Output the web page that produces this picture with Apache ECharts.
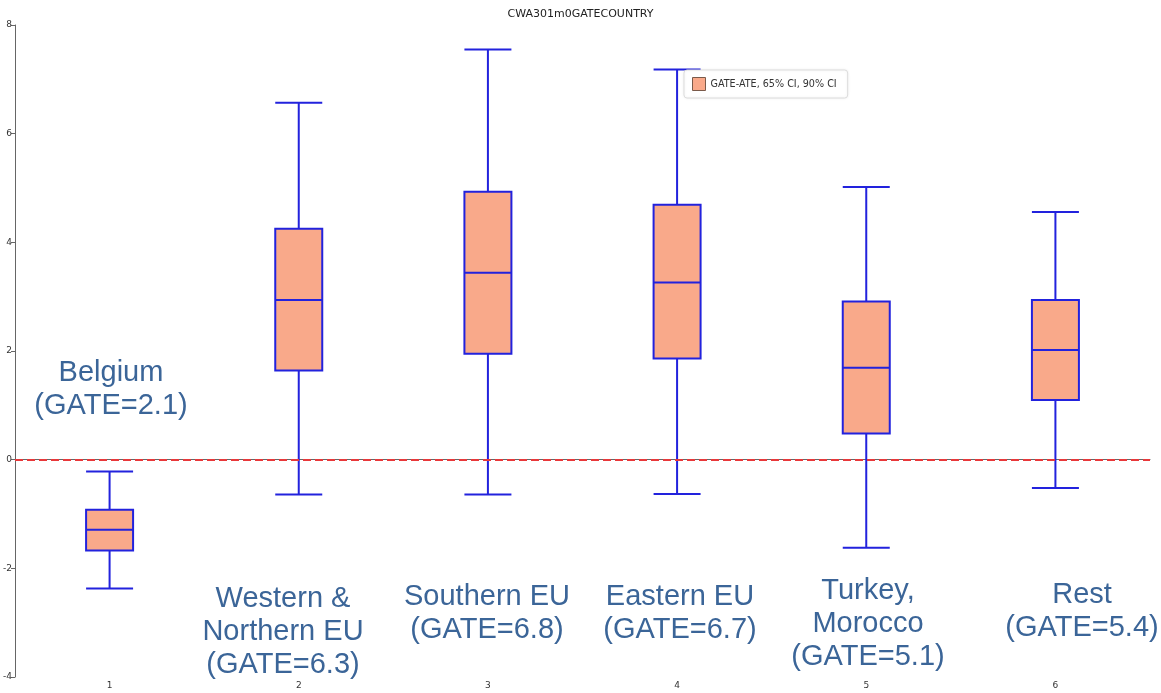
<!DOCTYPE html>
<html>
<head>
<meta charset="utf-8">
<script src="https://cdn.jsdelivr.net/npm/echarts@6/dist/echarts.min.js"></script>
<style>
    html, body { margin: 0; padding: 0; background: #fff; }
    #chart { width: 1161px; height: 693px; }
</style>
</head>
<body>
<div id="chart"></div>
<script>
    // categories on the x axis
    var categories = ['1', '2', '3', '4', '5', '6'];
    // boxplot values per group: lower whisker, Q1, median, Q3, upper whisker
    var lowWhisker = [-2.37, -0.64, -0.64, -0.63, -1.62, -0.52];
    var boxLow = [-1.67, 1.64, 1.95, 1.86, 0.48, 1.10];
    var medians = [-1.29, 2.94, 3.44, 3.26, 1.69, 2.02];
    var boxHigh = [-0.92, 4.25, 4.93, 4.69, 2.91, 2.94];
    var highWhisker = [-0.22, 6.57, 7.55, 7.18, 5.02, 4.56];
    var yTicks = { min: -4, max: 8, interval: 2 };
    // annotation texts per group
    var groupNotes = [
        'Belgium\n(GATE=2.1)',
        'Western &\nNorthern EU\n(GATE=6.3)',
        'Southern EU\n(GATE=6.8)',
        'Eastern EU\n(GATE=6.7)',
        'Turkey,\nMorocco\n(GATE=5.1)',
        'Rest\n(GATE=5.4)'
    ];

    var boxData = categories.map(function (c, i) {
        return [lowWhisker[i], boxLow[i], medians[i], boxHigh[i], highWhisker[i]];
    });

    // where the notes go (pixel positions of text centre / top)
    var notePos = [
        { x: 111, y: 356 },
        { x: 283, y: 582 },
        { x: 487, y: 580 },
        { x: 680, y: 580 },
        { x: 868, y: 574 },
        { x: 1082, y: 578 }
    ];

    var option = {
        animation: false,
        title: {
            text: 'CWA301m0GATECOUNTRY',
            left: 'center',
            top: 4,
            textStyle: {
                fontFamily: 'DejaVu Sans',
                fontSize: 11,
                fontWeight: 'normal',
                color: '#222'
            }
        },
        legend: {
            left: 684,
            top: 70,
            padding: [7, 11, 7, 8],
            itemWidth: 13,
            itemHeight: 13,
            itemGap: 6,
            icon: 'rect',
            borderColor: '#ddd',
            borderWidth: 1,
            borderRadius: 3,
            backgroundColor: '#fff',
            shadowColor: 'rgba(0,0,0,0.08)',
            shadowBlur: 3,
            itemStyle: {
                color: '#f9a98a',
                borderColor: '#7a5a4a',
                borderWidth: 1
            },
            textStyle: {
                fontFamily: 'DejaVu Sans',
                fontSize: 9.6,
                color: '#333'
            },
            data: ['GATE-ATE, 65% CI, 90% CI']
        },
        grid: {
            left: 15,
            right: 11,
            top: 25,
            bottom: 16
        },
        xAxis: {
            type: 'category',
            data: categories,
            boundaryGap: true,
            axisLine: { lineStyle: { color: '#666', width: 1 } },
            axisTick: { length: 4, lineStyle: { color: '#666' } },
            axisLabel: {
                fontFamily: 'DejaVu Sans',
                fontSize: 9,
                color: '#333',
                margin: 4
            },
            splitLine: { show: false }
        },
        yAxis: {
            type: 'value',
            min: yTicks.min,
            max: yTicks.max,
            interval: yTicks.interval,
            axisLine: { show: true, lineStyle: { color: '#666', width: 1 } },
            axisTick: { show: true, length: 4, lineStyle: { color: '#666' } },
            axisLabel: {
                fontFamily: 'DejaVu Sans',
                fontSize: 9,
                color: '#333',
                margin: 3
            },
            splitLine: { show: false }
        },
        series: [{
            name: 'GATE-ATE, 65% CI, 90% CI',
            type: 'boxplot',
            data: boxData,
            boxWidth: [47, 47],
            itemStyle: {
                color: '#f9a98a',
                borderColor: '#2222dd',
                borderWidth: 2
            },
            emphasis: { disabled: true },
            markLine: {
                silent: true,
                symbol: 'none',
                label: { show: false },
                lineStyle: {
                    color: '#e8383a',
                    type: [8, 4],
                    width: 1.8
                },
                data: [{ yAxis: 0 }]
            }
        }],
        graphic: groupNotes.map(function (t, i) {
            return {
                type: 'text',
                x: notePos[i].x,
                y: notePos[i].y,
                style: {
                    text: t,
                    fill: '#3b6598',
                    font: '29px "Liberation Sans", Arial, sans-serif',
                    lineHeight: 33,
                    align: 'center',
                    verticalAlign: 'top'
                }
            };
        })
    };

    var myChart = echarts.init(document.getElementById('chart'));
    myChart.setOption(option);
</script>
</body>
</html>
